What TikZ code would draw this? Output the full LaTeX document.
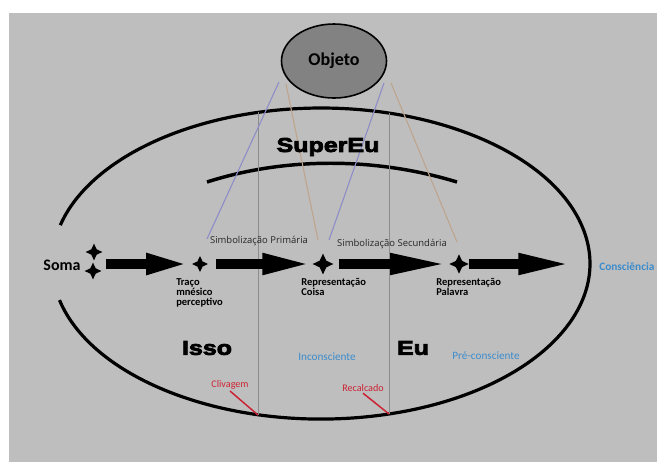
\documentclass[tikz,border=0pt]{standalone}
\usepackage{fontspec}
\setmainfont{Carlito}
\newfontfamily\simbfont{Open Sans}
\newfontfamily\heavyfont[FakeStretch=1.25,FakeBold=4]{Liberation Sans}
\usetikzlibrary{arrows.meta,
                shapes.geometric}
\definecolor{fundo}{HTML}{BEBEBE}
\definecolor{objfill}{HTML}{828282}
\definecolor{azul}{HTML}{3C8CCC}
\definecolor{vermelho}{HTML}{CC2233}
\definecolor{lilas}{HTML}{8C8CC8}
\definecolor{bege}{HTML}{BFA48C}
\definecolor{cinza}{HTML}{8C8C8C}

\begin{document}
\begin{tikzpicture}[x=0.75pt,y=-0.75pt]

\tikzstyle{estrela}=[star, star points=4, star point ratio=2.2, fill=black, draw=none, inner sep=0pt]
\tikzstyle{seta}=[line width=7.5pt, -{Triangle[length=#1, width=14.25pt]}]
\tikzstyle{pesado}=[font=\heavyfont\bfseries\fontsize{15}{16}\selectfont]
\tikzstyle{rotulo}=[font=\bfseries\fontsize{7.9}{7.5}\selectfont, align=left, anchor=north west, inner sep=0pt]
\tikzstyle{simb}=[font=\simbfont\fontsize{7.1}{8}\selectfont, text=black!85]
\tikzstyle{azultxt}=[font=\fontsize{8.4}{9}\selectfont, text=azul]
\tikzstyle{vermtxt}=[font=\fontsize{7.6}{9}\selectfont, text=vermelho, inner sep=1pt]

\useasboundingbox (0,0) rectangle (657,462);
\fill[fundo] (9,13) rectangle (657,462);

% aparelho
\draw[line width=2.4pt] (59.5,300.1) arc[start angle=193.6, end angle=525.7, x radius=201.75pt, y radius=116.625pt];
\draw[line width=2.6pt] (207,182) .. controls (285,157) and (375,157) .. (457,182);

\coordinate (clivtop) at (258,112);
\coordinate (clivbot) at (258,415);
\coordinate (recaltop) at (389,113);
\coordinate (recalbot) at (389,414);
\draw[cinza, line width=0.6pt] (clivtop) -- (clivbot);
\draw[cinza, line width=0.6pt] (recaltop) -- (recalbot);

\node (obj) [ellipse, draw, line width=1.2pt, fill=objfill, minimum width=78.75pt, minimum height=55.5pt,
             font=\bfseries\fontsize{13.5}{15}\selectfont] at (334,61) {Objeto};

\coordinate (oa) at (279,82);
\coordinate (ob) at (286,84);
\coordinate (oc) at (384,83);
\coordinate (od) at (391,83);
\coordinate (pa) at (207,239);
\coordinate (pb) at (318,240);
\coordinate (pc) at (329,240);
\coordinate (pd) at (457,242);
\draw[lilas, line width=0.8pt] (oa) -- (pa);
\draw[bege, line width=0.8pt] (ob) -- (pb);
\draw[lilas, line width=0.8pt] (oc) -- (pc);
\draw[bege, line width=0.8pt] (od) -- (pd);

\node (super) [pesado] at (328,147) {SuperEu};

\node (soma) [font=\bfseries\fontsize{12}{14}\selectfont] at (62,265) {Soma};
\node (somaA) [estrela, minimum size=12.5pt] at (94,252) {};
\node (somaB) [estrela, minimum size=12.5pt] at (93,271) {};
\coordinate (somapt) at (94,264);

\node (traco) [estrela, minimum size=12pt] at (200,264) {};
\node (coisa) [estrela, minimum size=15.5pt] at (323,264) {};
\node (palavra) [estrela, minimum size=14.5pt] at (459,264) {};

\node (tracotxt) [rotulo] at (176,278) {Traço\\mnésico\\perceptivo};
\node (coisatxt) [rotulo] at (301,278) {Representação\\Coisa};
\node (palavratxt) [rotulo] at (436,278) {Representação\\Palavra};

\node (simbP) [simb] at (259,241) {Simbolização Primária};
\node (simbS) [simb] at (392,244) {Simbolização Secundária};

\node (cons) [font=\bfseries\fontsize{8.5}{10}\selectfont, text=azul, anchor=west, inner sep=0pt] at (599,267) {Consciência};

\draw[seta=33pt, shorten <=9pt, shorten >=7.5pt] (somapt) -- (traco.center);
\draw[seta=38pt, shorten <=12pt, shorten >=7.5pt] (traco.center) -- (coisa.center);
\draw[seta=45pt, shorten <=12pt, shorten >=6.75pt] (coisa.center) -- (palavra.center);
\draw[seta=41pt, shorten <=7.5pt, shorten >=19.5pt] (palavra.center) -- (palavra.center -| cons.west);

\node (isso) [pesado] at (207,348) {Isso};
\node (eu) [pesado] at (413,348) {Eu};
\node (incons) [azultxt] at (327,357) {Inconsciente};
\node (precons) [azultxt] at (486,356) {Pré-consciente};

\node (cliv) [vermtxt] at (230,385) {Clivagem};
\node (recal) [vermtxt] at (363,388) {Recalcado};
\draw[vermelho, line width=1.1pt] (cliv.south) -- (clivbot);
\draw[vermelho, line width=1.1pt] (recal.south) -- (recalbot);

\end{tikzpicture}
\end{document}
